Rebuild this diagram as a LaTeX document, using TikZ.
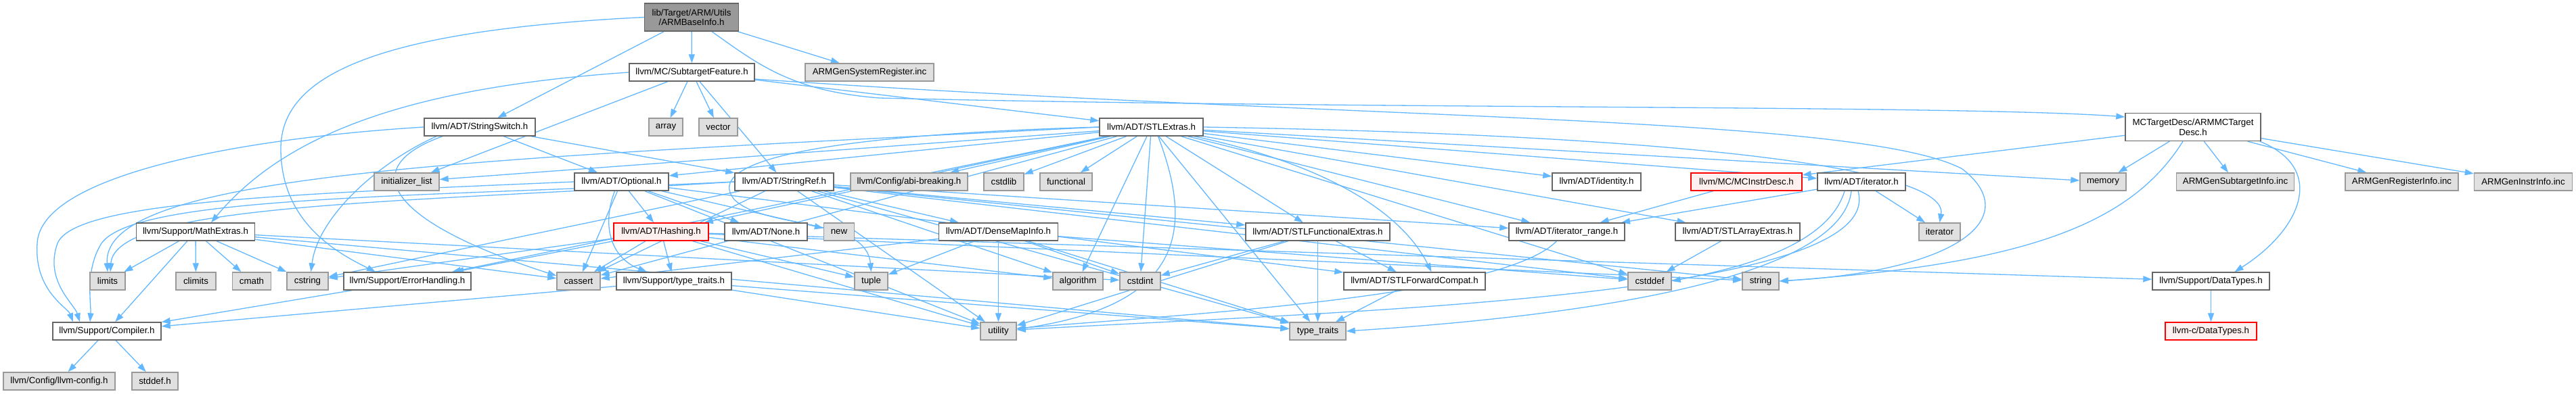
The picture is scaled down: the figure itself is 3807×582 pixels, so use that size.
\documentclass[tikz,border=0pt]{standalone}
\usepackage{fontspec}
\setmainfont{Liberation Sans}
\usetikzlibrary{arrows.meta}
\definecolor{edgec}{HTML}{63B8FF}
\definecolor{extfill}{HTML}{E0E0E0}
\definecolor{extdraw}{HTML}{999999}
\definecolor{nodedraw}{HTML}{666666}
\definecolor{rootfill}{HTML}{999999}
\definecolor{redfill}{HTML}{FFF0F0}
\definecolor{reddraw}{HTML}{FF0000}
\pgfdeclarelayer{bg}
\pgfsetlayers{bg,main}
\tikzset{
 basebox/.style={rectangle, line width=1.4pt, minimum height=26pt, inner sep=0pt,
   font=\fontsize{13.3}{14.5}\selectfont, align=center},
 inode/.style={basebox, draw=nodedraw, fill=white},
 enode/.style={basebox, draw=extdraw, fill=extfill},
 tnode/.style={basebox, draw=reddraw, fill=redfill},
 rnode/.style={basebox, draw=nodedraw, fill=rootfill, minimum height=41pt},
 dep/.style={draw=edgec, line width=1.3pt, -{Triangle[length=13pt,width=9pt]}},
}
\newcommand\mynode[6]{\node[#5, minimum width=#4pt] (#1) at (#2,#3) {#6};}
\begin{document}
\begin{tikzpicture}[x=1pt,y=-1pt]
\useasboundingbox (0,0) rectangle (3807,582);
\begin{pgfonlayer}{bg}
\fill[white] (0,0) rectangle (3807,582);
\end{pgfonlayer}
% row 0-2
\mynode{root}{1022}{25.5}{139}{rnode}{lib/Target/ARM/Utils\\/ARMBaseInfo.h}
\mynode{sf}{1022.5}{107}{185}{inode}{llvm/MC/SubtargetFeature.h}
\mynode{sysreg}{1285}{107}{190}{enode}{ARMGenSystemRegister.inc}
\mynode{sswitch}{709}{188}{164}{inode}{llvm/ADT/StringSwitch.h}
\mynode{array}{984}{188}{50}{enode}{array}
\mynode{vector}{1061.5}{188}{57}{enode}{vector}
\mynode{stlextras}{1701.5}{188}{153}{inode}{llvm/ADT/STLExtras.h}
\mynode{mctd}{3241}{188}{200}{inode, minimum height=41pt}{MCTargetDesc/ARMMCTarget\\Desc.h}
% row 3
\mynode{initlist}{601}{269}{96}{enode}{initializer\_list}
\mynode{optional}{918.5}{269}{139}{inode}{llvm/ADT/Optional.h}
\mynode{stringref}{1159}{269}{146}{inode}{llvm/ADT/StringRef.h}
\mynode{abi}{1343.5}{269}{173}{enode}{llvm/Config/abi-breaking.h}
\mynode{cstdlib}{1483.5}{269}{59}{enode}{cstdlib}
\mynode{functional}{1575.5}{269}{77}{enode}{functional}
\mynode{identity}{2359.5}{269}{131}{inode}{llvm/ADT/identity.h}
\mynode{mcinstr}{2581}{269}{164}{tnode}{llvm/MC/MCInstrDesc.h}
\mynode{iterh}{2751}{269}{130}{inode}{llvm/ADT/iterator.h}
\mynode{memory}{3108}{269}{68}{enode}{memory}
\mynode{subinfo}{3303.5}{269}{174}{enode}{ARMGenSubtargetInfo.inc}
\mynode{reginfo}{3549.5}{269}{167}{enode}{ARMGenRegisterInfo.inc}
\mynode{instrinfo}{3729}{269}{145}{enode}{ARMGenInstrInfo.inc}
% row 4
\mynode{mathextras}{289}{343}{175}{inode}{llvm/Support/MathExtras.h}
\mynode{hashing}{977}{343}{140}{tnode}{llvm/ADT/Hashing.h}
\mynode{none}{1132}{343}{122}{inode}{llvm/ADT/None.h}
\mynode{newh}{1240}{343}{45}{enode}{new}
\mynode{densemap}{1475.5}{343}{176}{inode}{llvm/ADT/DenseMapInfo.h}
\mynode{stlfunc}{1947.5}{343}{213}{inode}{llvm/ADT/STLFunctionalExtras.h}
\mynode{iterrange}{2315.5}{343}{171}{inode}{llvm/ADT/iterator\_range.h}
\mynode{stlarray}{2568}{343}{184}{inode}{llvm/ADT/STLArrayExtras.h}
\mynode{iterator}{2866.5}{343}{61}{enode}{iterator}
% row 5
\mynode{limits}{159}{416}{52}{enode}{limits}
\mynode{climits}{289.5}{416}{59}{enode}{climits}
\mynode{cmath}{372}{416}{57}{enode}{cmath}
\mynode{cstring}{454.5}{416}{61}{enode}{cstring}
\mynode{errh}{602}{416}{188}{inode}{llvm/Support/ErrorHandling.h}
\mynode{cassert}{855}{416}{64}{enode}{cassert}
\mynode{typetraitsh}{996}{416}{170}{inode}{llvm/Support/type\_traits.h}
\mynode{tuple}{1287.5}{416}{49}{enode}{tuple}
\mynode{algorithm}{1593}{416}{74}{enode}{algorithm}
\mynode{cstdint}{1685}{416}{60}{enode}{cstdint}
\mynode{fwdcompat}{2090.5}{416}{209}{inode}{llvm/ADT/STLForwardCompat.h}
\mynode{cstddef}{2438}{416}{64}{enode}{cstddef}
\mynode{string}{2602}{416}{54}{enode}{string}
\mynode{datatypes}{3267.5}{416}{173}{inode}{llvm/Support/DataTypes.h}
% row 6-7
\mynode{compiler}{158}{490}{160}{inode}{llvm/Support/Compiler.h}
\mynode{utility}{1475.5}{490}{53}{enode}{utility}
\mynode{typetraits}{1947.5}{490}{83}{enode}{type\_traits}
\mynode{cdatatypes}{3267.5}{490}{135}{tnode}{llvm-c/DataTypes.h}
\mynode{llvmconfig}{87.5}{564}{165}{enode}{llvm/Config/llvm-config.h}
\mynode{stddef}{229}{564}{68}{enode}{stddef.h}

\begin{pgfonlayer}{bg}
% root
\draw[dep] (root) -- (sf);
\draw[dep] (root) -- (sysreg);
\draw[dep] (root) -- (sswitch);
\draw[dep] (root.west) .. controls (560,45) and (415,110) .. (415,220) .. controls (415,330) and (500,375) .. ([xshift=-47pt]errh.north);
\draw[dep] ([xshift=30pt]root.south) .. controls (1120,95) and (1170,135) .. (1300,145) .. controls (2000,162) and (2900,155) .. ([yshift=15pt]mctd.west);
% SubtargetFeature
\draw[dep] (sf) -- (array);
\draw[dep] (sf) -- (vector);
\draw[dep] (sf) -- (stringref);
\draw[dep] (sf) -- (stlextras);
\draw[dep] (sf) -- (initlist);
\draw[dep] (sf.west) .. controls (600,130) and (420,200) .. ([xshift=23pt]mathextras.north);
\draw[dep] ([yshift=-10pt]sf.east) .. controls (2000,178) and (2750,170) .. (2900,250) .. controls (2990,320) and (2900,400) .. (string.east);
% StringSwitch
\draw[dep] (sswitch) -- (optional);
\draw[dep] (sswitch) -- (stringref);
\draw[dep] (sswitch.west) .. controls (350,205) and (60,260) .. (55,360) .. controls (50,430) and (100,455) .. ([xshift=-50pt]compiler.north);
\draw[dep] ([xshift=-64pt]sswitch.south) .. controls (560,240) and (470,320) .. ([xshift=5pt]cstring.north);
\draw[dep] ([xshift=-55pt]sswitch.south) .. controls (520,250) and (580,330) .. ([yshift=8pt]cassert.west);
% STLExtras
\draw[dep] (stlextras) -- (hashing);
\draw[dep] (stlextras) -- ([yshift=9pt]optional.east);
\draw[dep] (stlextras) .. controls (1990,250) and (2080,330) .. ([xshift=25pt]fwdcompat.north);
\draw[dep] (stlextras) -- (stlfunc);
\draw[dep] (stlextras) -- (stlarray);
\draw[dep] (stlextras) -- (identity);
\draw[dep] (stlextras) -- (iterh);
\draw[dep] (stlextras) -- (iterrange);
\draw[dep] (stlextras) -- (abi);
\draw[dep] (stlextras) -- (errh);
\draw[dep] (stlextras) -- (algorithm);
\draw[dep] (stlextras) -- (cassert);
\draw[dep] (stlextras) -- (cstddef);
\draw[dep] (stlextras) -- (cstdint);
\draw[dep] (stlextras) -- (cstdlib);
\draw[dep] (stlextras) -- (functional);
\draw[dep] (stlextras) -- (initlist);
\draw[dep] (stlextras.east) .. controls (2500,200) and (2880,250) .. (iterator.north);
\draw[dep] (stlextras.west) .. controls (700,235) and (150,255) .. (limits.north);
\draw[dep] (stlextras) -- (memory);
\draw[dep] (stlextras.west) .. controls (1200,200) and (1040,240) .. (1085,295) .. controls (1130,340) and (1280,320) .. (tuple.north);
\draw[dep] (stlextras) -- (typetraits);
\draw[dep] ([xshift=10pt]stlextras.south) .. controls (1760,330) and (1760,450) .. ([yshift=3pt]utility.east);
% MCTargetDesc
\draw[dep] (mctd) -- (mcinstr);
\draw[dep] ([xshift=-2pt]mctd.south east) .. controls (3440,250) and (3400,340) .. ([xshift=35pt]datatypes.north);
\draw[dep] (mctd) -- (memory);
\draw[dep] ([xshift=-15pt]mctd.south) .. controls (3150,330) and (3000,390) .. (string.east);
\draw[dep] (mctd) -- (subinfo);
\draw[dep] (mctd) -- (reginfo);
\draw[dep] (mctd) -- (instrinfo);
% Optional
\draw[dep] (optional) -- (hashing);
\draw[dep] (optional) -- (none);
\draw[dep] (optional) -- (newh);
\draw[dep] (optional) -- (fwdcompat);
\draw[dep] (optional.west) .. controls (400,288) and (110,300) .. (85,360) .. controls (65,415) and (110,450) .. ([xshift=-40pt]compiler.north);
\draw[dep] ([xshift=-10pt]optional.south) .. controls (890,330) and (900,380) .. ([xshift=-40pt]typetraitsh.north);
\draw[dep] (optional) -- (cassert);
\draw[dep] (optional) -- (utility);
% StringRef
\draw[dep] (stringref) -- (densemap);
\draw[dep] (stringref) -- (stlfunc);
\draw[dep] (stringref) -- (iterrange);
\draw[dep] (stringref.west) .. controls (600,292) and (200,290) .. (150,360) .. controls (125,400) and (135,450) .. ([xshift=-25pt]compiler.north);
\draw[dep] (stringref) -- (algorithm);
\draw[dep] (stringref) -- (cassert);
\draw[dep] (stringref) -- (cstddef);
\draw[dep] (stringref) -- (cstring);
\draw[dep] (stringref.west) .. controls (600,300) and (170,300) .. ([xshift=4pt]limits.north);
\draw[dep] (stringref) -- (string);
\draw[dep] (stringref) -- (typetraits);
\draw[dep] (stringref) -- (utility);
% MathExtras
\draw[dep] (mathextras) -- (compiler);
\draw[dep] (mathextras) -- (cassert);
\draw[dep] (mathextras) -- (climits);
\draw[dep] (mathextras) -- (cmath);
\draw[dep] (mathextras) -- (cstdint);
\draw[dep] (mathextras) -- (cstring);
\draw[dep] (mathextras) -- (limits);
\draw[dep] (mathextras) -- (typetraits);
% Hashing
\draw[dep] (hashing) -- (datatypes);
\draw[dep] (hashing) -- (errh);
\draw[dep] (hashing) -- (typetraitsh);
\draw[dep] (hashing) -- (algorithm);
\draw[dep] (hashing) -- (cassert);
\draw[dep] (hashing) -- (cstring);
\draw[dep] (hashing) -- (string);
\draw[dep] (hashing) -- (tuple);
\draw[dep] (hashing) -- (utility);
% DenseMapInfo
\draw[dep] (densemap) -- (cassert);
\draw[dep] (densemap) -- (cstddef);
\draw[dep] (densemap) -- (cstdint);
\draw[dep] (densemap) -- (tuple);
\draw[dep] (densemap) -- (typetraits);
\draw[dep] (densemap) -- (utility);
% STLFunctionalExtras
\draw[dep] (stlfunc) -- (fwdcompat);
\draw[dep] (stlfunc) -- (cstdint);
\draw[dep] (stlfunc) -- (typetraits);
\draw[dep] (stlfunc) -- (utility);
% others
\draw[dep] (fwdcompat) -- (typetraits);
\draw[dep] ([xshift=-15pt]iterrange.south) .. controls (2220,440) and (1750,465) .. ([yshift=4pt]utility.east);
\draw[dep] (stlarray) -- (cstddef);
\draw[dep] (iterh) -- (iterrange);
\draw[dep] ([xshift=-25pt]iterh.south) .. controls (2700,370) and (2550,400) .. (cstddef.east);
\draw[dep] (iterh) -- (iterator);
\draw[dep] ([xshift=-15pt]iterh.south) .. controls (2720,420) and (2300,470) .. (typetraits.east);
\draw[dep] ([xshift=-5pt]iterh.south) .. controls (2790,440) and (2000,460) .. ([yshift=2pt]utility.east);
\draw[dep] (mcinstr) -- (iterrange);
\draw[dep] (errh) -- (compiler);
\draw[dep] (typetraitsh) -- (compiler);
\draw[dep] (typetraitsh) -- (typetraits);
\draw[dep] (typetraitsh) -- (utility);
\draw[dep] (compiler) -- (llvmconfig);
\draw[dep] (compiler) -- (stddef);
\draw[dep] (datatypes) -- (cdatatypes);
\end{pgfonlayer}
\end{tikzpicture}
\end{document}
